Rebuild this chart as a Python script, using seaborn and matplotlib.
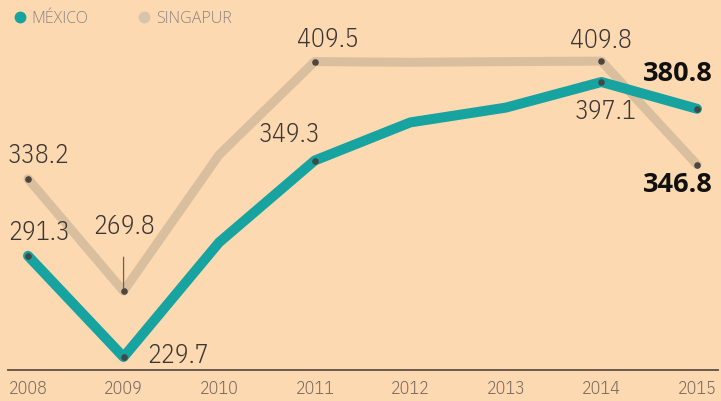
import seaborn as sns
import numpy as np
import pandas as pd
import matplotlib.pyplot as plt
from matplotlib.lines import Line2D
from matplotlib.font_manager import FontProperties

years = [2008, 2009, 2010, 2011, 2012, 2013, 2014, 2015]
mexico = [291.3, 229.7, 299.5, 349.3, 372.5, 381.5, 397.1, 380.8]
singapur = [338.2, 269.8, 352.8, 409.5, 409.1, 409.5, 409.8, 346.8]
series_names = ['MÉXICO', 'SINGAPUR']

teal = '#17a3a0'
tan = '#d9bf9d'
bg = '#fdd9b1'
txt = '#3b3534'

df = pd.DataFrame({
    'year': years * 2,
    'value': mexico + singapur,
    'serie': [series_names[0]] * len(years) + [series_names[1]] * len(years),
})

sns.set_style('white')
plt.rcParams['font.family'] = ['Open Sans', 'DejaVu Sans']

light_c = lambda size: FontProperties(family='IBM Plex Sans Condensed', weight=300, size=size)
bold_f = FontProperties(family='Open Sans', weight='bold', size=19.5)

fig = plt.figure(figsize=(7.21, 4.01), dpi=100, facecolor=bg)
ax = fig.add_axes([8 / 721, 31 / 401, 710 / 721, 370 / 401])
ax.set_facecolor(bg)

# singapur first so mexico sits on top
sns.lineplot(data=df[df.serie == 'SINGAPUR'], x='year', y='value', color=tan,
             linewidth=6.5, ax=ax, legend=False, solid_capstyle='round')
sns.lineplot(data=df[df.serie == 'MÉXICO'], x='year', y='value', color=teal,
             linewidth=7.2, ax=ax, legend=False, solid_capstyle='round')

# small dark dots on the labelled points
lab_idx = [0, 1, 3, 6, 7]
ax.scatter([years[i] for i in lab_idx], [singapur[i] for i in lab_idx], s=14, color='#4d4540', zorder=5)
ax.scatter([years[i] for i in lab_idx], [mexico[i] for i in lab_idx], s=14, color='#3f4a48', zorder=5)

ax.set_xlim(2008 - 20 / 95.6, 2015 + 21 / 95.6)
ax.set_ylim(221.8, 447.0)

# labels: (serie, index, dx px, dy px, bold)
labels = [
    (mexico, 0, 11, 23, False),
    (singapur, 0, 11, 23, False),
    (mexico, 1, 54, 2, False),
    (mexico, 3, -25, 26, False),
    (singapur, 3, 13, 22, False),
    (singapur, 6, 0, 21, False),
    (mexico, 6, 4, -30, False),
    (mexico, 7, -19, 35, True),
    (singapur, 7, -19, -20, True),
]
for serie, i, dx, dy, bold in labels:
    ax.annotate(f'{serie[i]:.1f}', xy=(years[i], serie[i]), xytext=(dx, dy),
                textcoords='offset pixels', ha='center', va='center',
                fontproperties=bold_f if bold else light_c(18.5),
                color='#111111' if bold else txt, zorder=6)

# 269.8 with its leader line
ax.annotate(f'{singapur[1]:.1f}', xy=(years[1], singapur[1]), xytext=(0, 65),
            textcoords='offset pixels', ha='center', va='center',
            fontproperties=light_c(18.5), color=txt,
            arrowprops=dict(arrowstyle='-', color='#6b5f58', lw=0.9, shrinkA=11, shrinkB=2))

for s in ['top', 'right', 'left']:
    ax.spines[s].set_visible(False)
ax.spines['bottom'].set_color('#6b5a4c')
ax.spines['bottom'].set_linewidth(1.4)

ax.set_xticks(years)
ax.set_xticklabels([str(y) for y in years], fontproperties=light_c(13))
ax.set_yticks([])
ax.tick_params(axis='x', length=0, pad=7.5, labelcolor='#7a6a5e')
ax.set_xlabel('')
ax.set_ylabel('')

handles = [Line2D([], [], marker='o', linestyle='', markersize=7.5, color=teal),
           Line2D([], [], marker='o', linestyle='', markersize=7.5, color='#d6c4ad')]
ax.legend(handles, series_names, loc='upper left', bbox_to_anchor=(-0.004, 0.988), ncol=2,
          frameon=False, prop=FontProperties(family='Open Sans', weight=300, size=11.5),
          handletextpad=0.25, columnspacing=3.0,
          labelcolor='#8c8480', borderaxespad=0.0, handlelength=1.0)

fig.savefig('out.png', dpi=100, facecolor=bg)
